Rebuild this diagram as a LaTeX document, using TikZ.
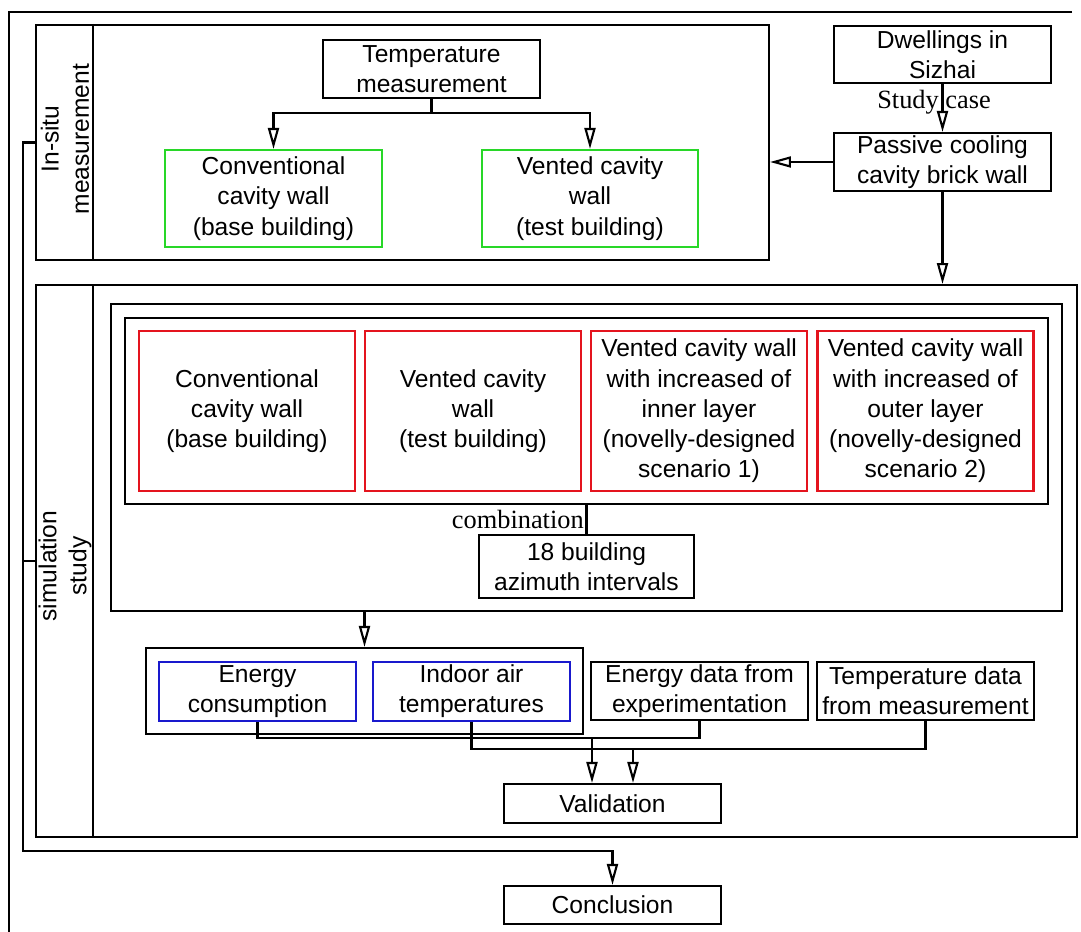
\documentclass[tikz,border=0pt]{standalone}
\usepackage{fontspec}
\setmainfont{Liberation Sans}
\newfontfamily\notefont{Liberation Serif}
\usetikzlibrary{arrows.meta,calc}
\definecolor{wallgreen}{RGB}{40,215,40}
\definecolor{wallred}{RGB}{228,20,30}
\definecolor{wallblue}{RGB}{25,25,205}
\tikzset{
    box/.style =    {rectangle,
                    draw=black,
                    text=black,
                    align=center,
                    inner sep=0pt,
                    minimum width=4.34cm,
                    minimum height=1.16cm,
                    font=\fontsize{14}{17.2}\selectfont},
    greenbox/.style = {box,
                    draw=wallgreen,
                    minimum height=1.94cm},
    redbox/.style = {box,
                    draw=wallred,
                    minimum width=4.32cm,
                    minimum height=3.2cm},
    bluebox/.style = {box,
                    draw=wallblue,
                    minimum width=3.94cm,
                    minimum height=1.18cm},
    panel/.style =  {rectangle,
                    draw=black,
                    inner sep=0pt},
    side/.style =   {rotate=90,
                    align=center,
                    font=\fontsize{14}{17.2}\selectfont},
    note/.style =   {inner sep=1pt,
                    font=\notefont\fontsize{15}{18}\selectfont},
    flow/.style =   {-{Triangle[open,length=4.2mm,width=2.2mm]}}
}

\begin{document}
\begin{tikzpicture}[x=0.02cm, y=-0.02cm, line width=1.2pt]
    \useasboundingbox (0,0) rectangle (1081,932);
    \draw (1072,12) -- (9,12) -- (9,932);

    % in-situ measurement
    \node[panel, minimum width=14.66cm, minimum height=4.7cm] (insitu) at (402.5,142.5) {};
    \draw ([xshift=1.16cm]insitu.north west) -- ([xshift=1.16cm]insitu.south west);
    \node[side] (insitulbl) at (65,139) {In-situ\\measurement};
    \node[box] (temp) at (431.5,69) {Temperature\\measurement};
    \node[greenbox] (conv) at (273.5,198.5) {Conventional\\cavity wall\\(base building)};
    \node[greenbox, minimum width=4.32cm] (vent) at (590,198.5) {Vented cavity\\wall\\(test building)};
    \coordinate (tsplit) at (431.5,113);
    \draw[flow] (temp.south) -- (tsplit) -| (conv.north);
    \draw[flow] (tsplit) -| (vent.north);

    % case
    \node[box, minimum height=1.14cm] (dwell) at (942.5,54.5) {Dwellings in\\Sizhai};
    \node[box] (passive) at (942.5,162) {Passive cooling\\cavity brick wall};
    \draw[flow] (dwell) -- (passive);
    \node[note] (studylbl) at (934,102) {Study case};
    \draw[flow] (passive.west) -- (passive.west -| insitu.east);

    % simulation study
    \node[panel, minimum width=20.82cm, minimum height=11.04cm] (sim) at (556.5,561) {};
    \draw[flow] (passive.south) -- (passive.south |- sim.north);
    \draw ([xshift=1.16cm]sim.north west) -- ([xshift=1.16cm]sim.south west);
    \node[side] (simlbl) at (65,566) {simulation\\study};
    \node[panel, minimum width=19.02cm, minimum height=6.14cm] (cases) at (586.5,457.5) {};
    \node[panel, minimum width=18.46cm, minimum height=3.72cm] (walls) at (586.5,411) {};
    \node[redbox] (w1) at (247,411) {Conventional\\cavity wall\\(base building)};
    \node[redbox] (w2) at (473,411) {Vented cavity\\wall\\(test building)};
    \node[redbox] (w3) at (699,411) {Vented cavity wall\\with increased of\\inner layer\\(novelly-designed\\scenario 1)};
    \node[redbox] (w4) at (925.5,411) {Vented cavity wall\\with increased of\\outer layer\\(novelly-designed\\scenario 2)};
    \node[box, minimum width=4.3cm, minimum height=1.26cm] (azim) at (586.5,566.5) {18 building\\azimuth intervals};
    \draw (walls.south) -- (azim.north) node[note, midway, left] (comblbl) {combination};

    % results and validation
    \node[panel, minimum width=8.74cm, minimum height=1.72cm] (outputs) at (364.5,691) {};
    \draw[flow] (outputs.north |- cases.south) -- (outputs.north);
    \node[bluebox] (energy) at (257.5,691.5) {Energy\\consumption};
    \node[bluebox] (indoor) at (471.5,691.5) {Indoor air\\temperatures};
    \node[box] (edata) at (699.5,691) {Energy data from\\experimentation};
    \node[box] (tdata) at (925.5,691) {Temperature data\\from measurement};
    \node[box, minimum height=0.78cm] (valid) at (612.5,803.5) {Validation};
    \coordinate (ebus) at (592,738);
    \coordinate (tbus) at (633,749);
    \draw (energy.south) |- (ebus) -| (edata.south);
    \draw (indoor.south) |- (tbus) -| (tdata.south);
    \draw[flow] (ebus) -- (ebus |- valid.north);
    \draw[flow] (tbus) -- (tbus |- valid.north);

    % conclusion
    \node[box, minimum height=0.76cm] (concl) at (612.5,905) {Conclusion};
    \coordinate (ltop) at (23,142.5);
    \coordinate (lbot) at (23,851);
    \draw[flow] (insitu.west) -- (ltop) -- (lbot) -| (concl.north);
    \draw (sim.west) -- (sim.west -| ltop);
\end{tikzpicture}
\end{document}
